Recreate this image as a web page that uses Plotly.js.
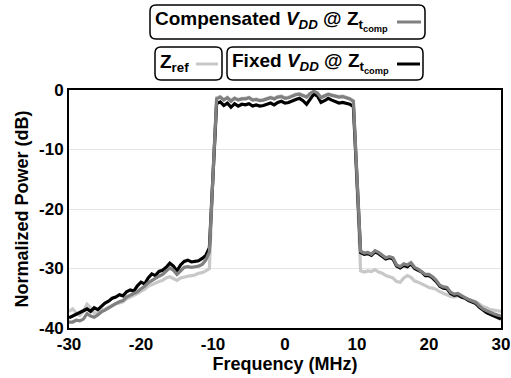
<!DOCTYPE html>
<html>
<head>
<meta charset="utf-8">
<script src="https://cdn.plot.ly/plotly-3.0.1.min.js"></script>
<style>html,body{margin:0;padding:0;background:#fff;}#chart{width:511px;height:378px;}</style>
</head>
<body>
<div id="chart"></div>
<script>
var freqMHz = [-30,-29.5,-29,-28.5,-28,-27.5,-27,-26.5,-26,-25.5,-25,-24.5,-24,-23.5,-23,-22.5,-22,-21.5,-21,-20.5,
  -20,-19.5,-19,-18.5,-18,-17.5,-17,-16.5,-16,-15.5,-15,-14.5,-14,-13.5,-13,-12.5,-12,-11.5,-11,-10.5,
  -10,-9.5,-9,-8.5,-8,-7.5,-7,-6.5,-6,-5.5,-5,-4.5,-4,-3.5,-3,-2.5,-2,-1.5,-1,-0.5,
  0,0.5,1,1.5,2,2.5,3,3.5,4,4.5,5,5.5,6,6.5,7,7.5,8,8.5,9,9.5,
  10,10.5,11,11.5,12,12.5,13,13.5,14,14.5,15,15.5,16,16.5,17,17.5,18,18.5,19,19.5,
  20,20.5,21,21.5,22,22.5,23,23.5,24,24.5,25,25.5,26,26.5,27,27.5,28,28.5,29,29.5,30];

var refPower = [-37.2,-36.8,-37.5,-37.9,-37.2,-36.0,-36.6,-37.5,-37.4,-37.0,-36.8,-36.5,-36.2,-35.9,-35.8,-35.6,-35.1,-34.8,-34.6,-34.2,
  -33.8,-33.5,-33.0,-32.7,-32.5,-32.2,-32.0,-31.6,-31.4,-31.7,-32.0,-31.6,-31.4,-31.3,-31.2,-31.1,-30.8,-30.7,-30.4,-30.0,
  -14,-1.3,-1.1,-1.6,-1.2,-1.7,-1.3,-1.6,-1.4,-1.4,-1.2,-1.6,-1.5,-1.7,-1.6,-1.4,-1.2,-1.4,-1.1,-1.0,
  -1.3,-1.2,-0.9,-0.7,-0.6,-0.9,-1.1,-0.6,-0.3,-0.5,-1.2,-0.9,-0.7,-0.8,-1.0,-1.1,-1.0,-1.2,-1.4,-1.8,
  -15,-30.4,-30.6,-30.4,-30.5,-30.2,-30.6,-30.8,-31.2,-31.4,-31.6,-32.2,-32.3,-31.6,-31.2,-31.5,-32.1,-32.3,-32.6,-32.8,
  -33.2,-33.3,-33.5,-33.9,-34.2,-34.4,-34.7,-34.8,-34.6,-34.8,-35.0,-35.1,-35.4,-35.6,-36.0,-36.4,-36.6,-36.9,-37.0,-37.1,-37.2];

var fixedPower = [-38.3,-38.0,-37.6,-37.3,-37.0,-36.8,-37.2,-36.6,-36.9,-36.3,-35.8,-35.5,-35.0,-34.8,-34.4,-34.6,-33.9,-33.6,-33.8,-32.9,
  -32.3,-32.6,-31.6,-30.9,-31.2,-30.5,-30.3,-29.8,-29.1,-29.6,-30.4,-29.4,-28.8,-28.6,-28.9,-28.8,-28.7,-28.3,-27.8,-26.5,
  -14,-2.3,-2.0,-2.6,-2.2,-2.9,-2.3,-2.7,-2.4,-2.5,-2.3,-2.7,-2.5,-2.7,-2.6,-2.4,-2.2,-2.5,-2.1,-1.9,
  -2.2,-2.1,-1.8,-1.6,-1.4,-1.8,-2.4,-1.6,-0.7,-1.0,-2.1,-1.8,-1.4,-1.7,-2.0,-2.2,-2.1,-2.3,-2.4,-2.8,
  -15,-27.3,-27.6,-27.5,-27.8,-27.2,-27.5,-28.0,-28.4,-28.2,-28.4,-29.6,-29.9,-29.5,-29.7,-29.2,-30.0,-30.3,-30.6,-31.2,
  -31.2,-31.6,-32.2,-33.0,-33.3,-33.4,-34.2,-34.5,-34.4,-34.8,-35.0,-35.4,-35.6,-35.9,-36.5,-37.0,-37.4,-37.7,-38.0,-38.2,-38.5];

var compPower = [-39.0,-39.0,-38.7,-38.8,-38.5,-37.6,-38.0,-38.2,-37.8,-37.3,-37.0,-36.6,-36.2,-35.9,-35.6,-35.4,-34.8,-34.5,-34.3,-33.9,
  -33.4,-33.0,-32.4,-32.0,-31.7,-31.3,-31.0,-30.4,-29.9,-30.3,-31.0,-30.4,-29.8,-29.7,-29.8,-29.7,-29.6,-29.3,-28.6,-27.2,
  -13,-1.5,-1.2,-1.7,-1.3,-1.9,-1.4,-1.7,-1.5,-1.5,-1.3,-1.7,-1.6,-1.8,-1.7,-1.5,-1.3,-1.5,-1.2,-1.1,
  -1.4,-1.3,-1.0,-0.8,-0.7,-1.0,-1.2,-0.6,-0.2,-0.5,-1.3,-1.0,-0.7,-0.9,-1.1,-1.2,-1.1,-1.3,-1.5,-1.9,
  -14,-27.1,-27.4,-27.3,-27.6,-27.0,-27.3,-27.8,-28.2,-28.0,-28.2,-29.4,-29.7,-29.2,-29.4,-29.0,-29.8,-30.1,-30.5,-31.0,
  -31.0,-31.4,-32.0,-32.8,-33.1,-33.2,-34.0,-34.3,-34.2,-34.6,-34.9,-35.2,-35.5,-35.7,-36.3,-36.8,-37.1,-37.4,-37.6,-37.8,-38.0];

var xTicks = [-30,-20,-10,0,10,20,30];
var yTicks = [0,-10,-20,-30,-40];
var legendTexts = ['Compensated <i>V<sub>DD</sub></i> @ Z<sub>t<sub>comp</sub></sub>', 'Z<sub>ref</sub>', 'Fixed <i>V<sub>DD</sub></i> @ Z<sub>t<sub>comp</sub></sub>'];

var colRef = '#c8c8c8', colComp = '#808080', colFixed = '#000000';

// plot area in pixels
var L = 69, R = 10, T = 90, B = 50, W = 511, H = 378;
var pw = W - L - R, ph = H - T - B;
function px2x(px){ return (px - L) / pw; }
function py2y(py){ return (H - B - py) / ph; }
function roundRect(x0, y0, x1, y1, r){
  function P(px, py){ return px2x(px).toFixed(5) + ',' + py2y(py).toFixed(5); }
  return 'M' + P(x0 + r, y0) + ' L' + P(x1 - r, y0) + ' Q' + P(x1, y0) + ' ' + P(x1, y0 + r) +
    ' L' + P(x1, y1 - r) + ' Q' + P(x1, y1) + ' ' + P(x1 - r, y1) +
    ' L' + P(x0 + r, y1) + ' Q' + P(x0, y1) + ' ' + P(x0, y1 - r) +
    ' L' + P(x0, y0 + r) + ' Q' + P(x0, y0) + ' ' + P(x0 + r, y0) + ' Z';
}

var font = {family: 'Liberation Sans, Arial, sans-serif', color: '#000', weight: 'bold'};

var traces = [
  {x: freqMHz, y: refPower, type: 'scatter', mode: 'lines', line: {color: colRef, width: 3.2}, showlegend: false},
  {x: freqMHz, y: fixedPower, type: 'scatter', mode: 'lines', line: {color: colFixed, width: 3.2}, showlegend: false},
  {x: freqMHz, y: compPower, type: 'scatter', mode: 'lines', line: {color: colComp, width: 3.2}, showlegend: false}
];

var boxes = [[150, 5, 425, 39], [155, 47, 222, 80], [227, 47, 423, 80]];
var shapes = boxes.map(function(b){
  return {type: 'path', xref: 'paper', yref: 'paper', path: roundRect(b[0], b[1], b[2], b[3], 6), line: {color: '#000', width: 1.5}};
});
var segs = [[397, 421, 22, colComp], [196, 218, 64, colRef], [397, 420, 64, colFixed]];
segs.forEach(function(s){
  shapes.push({type: 'line', xref: 'paper', yref: 'paper', x0: px2x(s[0]), x1: px2x(s[1]), y0: py2y(s[2]), y1: py2y(s[2]), line: {color: s[3], width: 3}});
});

var annPos = [[153, 21], [158, 63], [230, 63]];
var annotations = annPos.map(function(p, i){
  return {xref: 'paper', yref: 'paper', x: px2x(p[0]), y: py2y(p[1]), xanchor: 'left', yanchor: 'middle', showarrow: false,
    text: legendTexts[i], font: Object.assign({}, font, {size: 19})};
});

var layout = {
  width: W, height: H,
  margin: {l: L, r: R, t: T, b: B},
  paper_bgcolor: '#fff', plot_bgcolor: '#fff',
  xaxis: {range: [-30, 30], tickvals: xTicks, ticktext: xTicks.map(String), showgrid: false, zeroline: false,
    showline: true, mirror: true, linecolor: '#000', linewidth: 2, ticks: '',
    tickfont: Object.assign({}, font, {size: 17}),
    title: {text: 'Frequency (MHz)', font: Object.assign({}, font, {size: 18}), standoff: 2}},
  yaxis: {range: [-40, 0], tickvals: yTicks, ticktext: yTicks.map(String), showgrid: true, gridcolor: '#e4e4e4', gridwidth: 1,
    zeroline: false, showline: true, mirror: true, linecolor: '#000', linewidth: 2, ticks: '',
    tickfont: Object.assign({}, font, {size: 17}),
    title: {text: 'Normalized Power (dB)', font: Object.assign({}, font, {size: 18}), standoff: 6}},
  shapes: shapes,
  annotations: annotations,
  showlegend: false
};

Plotly.newPlot('chart', traces, layout, {displayModeBar: false, staticPlot: true});
</script>
</body>
</html>
